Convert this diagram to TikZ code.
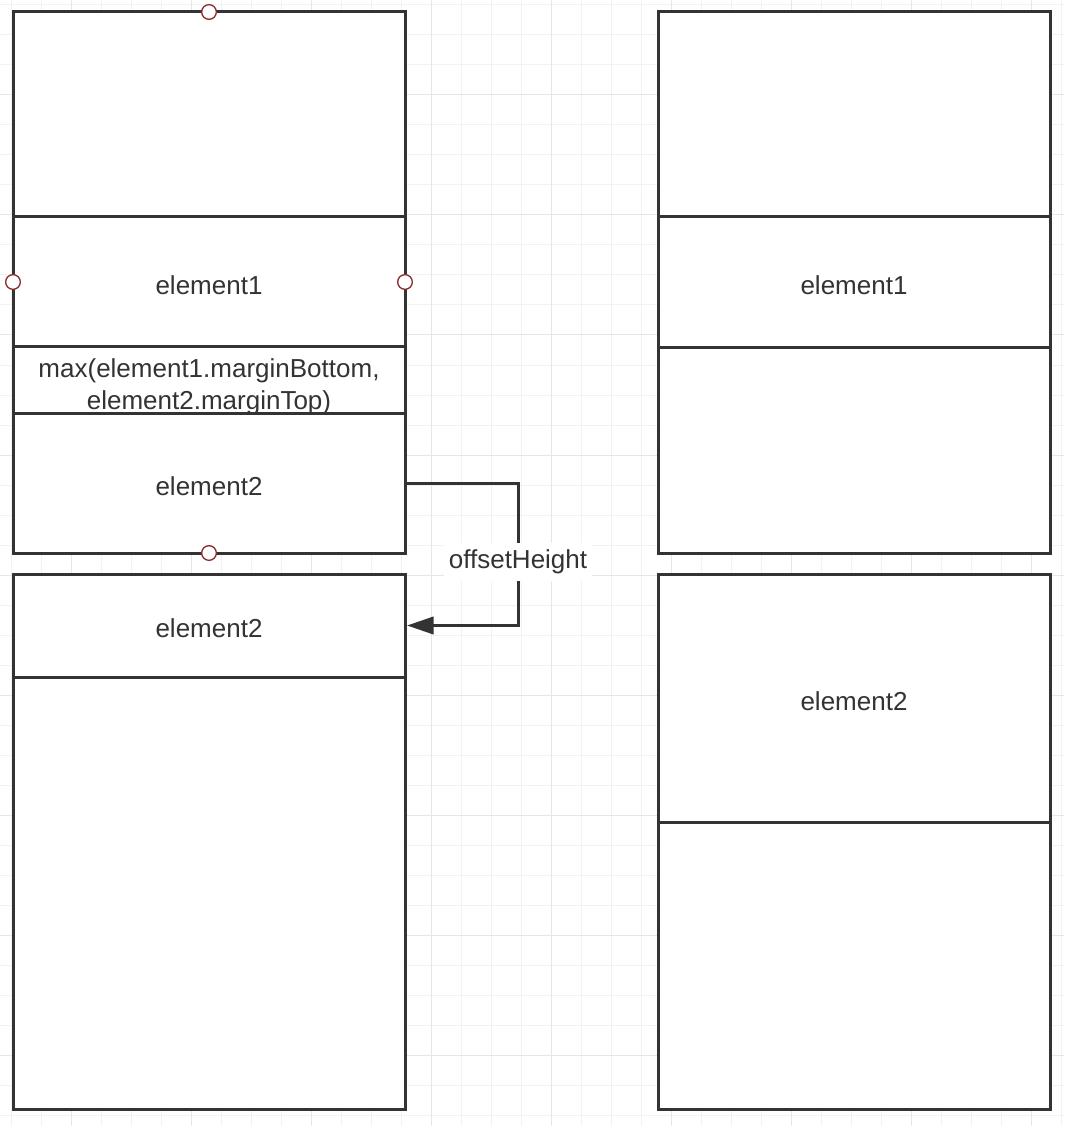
\documentclass[tikz,border=0pt]{standalone}
\usepackage{fontspec}
\setmainfont{Liberation Sans}
\usetikzlibrary{positioning,arrows.meta}
\definecolor{ink}{HTML}{333333}
\definecolor{portred}{HTML}{8B2E2E}
\definecolor{gridminor}{HTML}{F2F2F2}
\definecolor{gridmajor}{HTML}{E6E6E6}
\tikzset{
	sect/.style={draw=ink, line width=2.25pt, fill=white, outer sep=0pt, inner sep=0pt,
		minimum width=294pt, text=ink, align=center, font=\fontsize{19.5}{24}\selectfont,
		text height=18.5pt, text depth=0pt},
	port/.style={circle, draw=portred, line width=1pt, fill=white, inner sep=0pt, minimum size=11pt},
	link/.style={draw=ink, line width=2.25pt, -{Triangle[length=20pt,width=13pt]}, shorten >=1.5pt},
	lbl/.style={fill=white, text=ink, inner xsep=4pt, inner ysep=5pt, font=\fontsize{19.5}{24}\selectfont}
}
\begin{document}
\begin{tikzpicture}[x=0.75pt, y=-0.75pt]
			%%%%% START %%%%%
			\useasboundingbox (0,0) rectangle (1064,1126);
			\fill[white] (0,0) rectangle (1064,1126);
			
			% grid
			\foreach \gx in {11,41,...,1061} \draw[gridminor, line width=0.75pt] (\gx,0) -- (\gx,1126);
			\foreach \gy in {5,35,...,1125} \draw[gridminor, line width=0.75pt] (0,\gy) -- (1064,\gy);
			\foreach \gx in {71,191,...,1031} \draw[gridmajor, line width=0.75pt] (\gx,0) -- (\gx,1126);
			\foreach \gy in {95,215,...,1055} \draw[gridmajor, line width=0.75pt] (0,\gy) -- (1064,\gy);
			
			% left column, upper group
			\node[sect, minimum height=153.75pt] (ltop) at (209,114.5) {};
			\node[sect, minimum height=97.5pt, below=0pt of ltop] (lelemA) {element1};
			\node[sect, minimum height=49.5pt, text height=44.4pt, below=0pt of lelemA] (lgap) {max(element1.marginBottom,\\element2.marginTop)};
			\node[sect, minimum height=105pt, below=0pt of lgap] (lelemB) {element2};
			
			% left column, lower group
			\node[sect, minimum height=77.25pt, below=15.75pt of lelemB] (lelemC) {element2};
			\node[sect, minimum height=324pt, below=0pt of lelemC] (lrest) {};
			
			% right column, upper group
			\node[sect, minimum height=153.75pt, right=189.75pt of ltop] (rtop) {};
			\node[sect, minimum height=98.25pt, below=0pt of rtop] (relemA) {element1};
			\node[sect, minimum height=153.75pt, below=0pt of relemA] (rbot) {};
			
			% right column, lower group
			\node[sect, minimum height=186pt, below=15.75pt of rbot] (relemB) {element2};
			\node[sect, minimum height=215.25pt, below=0pt of relemB] (rrest) {};
			
			% ports
			\node[port] (pn) at (ltop.north) {};
			\node[port] (pw) at (lelemA.west) {};
			\node[port] (pe) at (lelemA.east) {};
			\node[port] (ps) at (lelemB.south) {};
			
			% offset arrow
			\draw[link] (lelemB.east) -- ++(113,0) |- node[pos=0.277, lbl] (offset) {offsetHeight} (lelemC.east);
			%%%%% END %%%%%
\end{tikzpicture}
\end{document}
